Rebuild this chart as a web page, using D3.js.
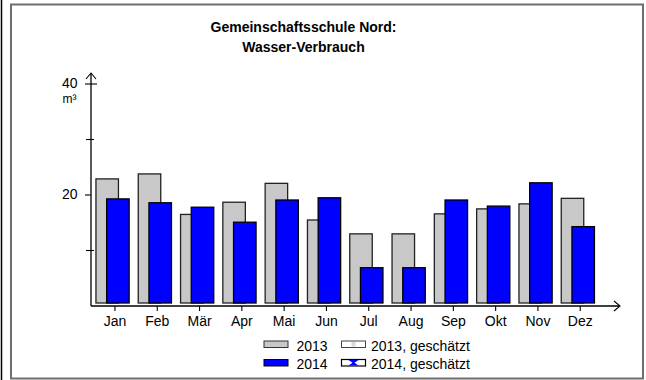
<!DOCTYPE html>
<html>
<head>
<meta charset="utf-8">
<script src="https://cdn.jsdelivr.net/npm/d3@7"></script>
<style>
  html, body { margin: 0; padding: 0; background: #fff; }
  svg { display: block; font-family: "Liberation Sans", Arial, sans-serif; }
</style>
</head>
<body>
<svg id="chart" width="646" height="380"></svg>
<script>
// Monthly water consumption (m³)
const months = ["Jan", "Feb", "Mär", "Apr", "Mai", "Jun", "Jul", "Aug", "Sep", "Okt", "Nov", "Dez"];
const values2013 = [22.9, 23.8, 16.5, 18.7, 22.1, 15.5, 13.0, 13.0, 16.6, 17.5, 18.4, 19.4];
const values2014 = [19.3, 18.6, 17.8, 15.1, 19.1, 19.5, 6.9, 6.9, 19.1, 18.0, 22.2, 14.3];
const yTicksMajor = [20, 40];
const yTicksMinor = [10, 30];
const titleLines = ["Gemeinschaftsschule Nord:", "Wasser-Verbrauch"];
const legendItems = [
  { label: "2013", kind: "2013" },
  { label: "2013, geschätzt", kind: "2013e" },
  { label: "2014", kind: "2014" },
  { label: "2014, geschätzt", kind: "2014e" }
];

const svg = d3.select("#chart");
const grey = "#c8c8c8";
const blue = "#0000ff";

// frame
svg.append("line").attr("x1", 1.5).attr("x2", 1.5).attr("y1", 0).attr("y2", 380)
  .attr("stroke", "#000").attr("stroke-width", 1.5);
svg.append("rect").attr("x", 11).attr("y", 4.5).attr("width", 632).attr("height", 374)
  .attr("fill", "none").attr("stroke", "#6e6e6e").attr("stroke-width", 2);

// title
svg.append("g").selectAll("text").data(titleLines).join("text")
  .attr("x", 303.5).attr("y", (d, i) => 31.7 + i * 20.6)
  .attr("text-anchor", "middle")
  .attr("font-size", 14).attr("font-weight", "bold")
  .text(d => d);

// scales
const x = d3.scaleBand().domain(months).range([93.8, 93.8 + 12 * 42.3]).padding(0);
const y = d3.scaleLinear().domain([0, 40]).range([306, 84]);
const barW = 22.5;
const base = y(0) - 3;

// bars
const groups = svg.append("g").selectAll("g").data(months).join("g")
  .attr("transform", d => `translate(${x(d) + x.bandwidth() / 2},0)`);

groups.append("rect")
  .attr("x", -19).attr("width", barW)
  .attr("y", (d, i) => y(values2013[i]))
  .attr("height", (d, i) => base - y(values2013[i]))
  .attr("fill", grey).attr("stroke", "#222").attr("stroke-width", 1.3);

groups.append("rect")
  .attr("x", -8.3).attr("width", barW)
  .attr("y", (d, i) => y(values2014[i]))
  .attr("height", (d, i) => base - y(values2014[i]))
  .attr("fill", blue).attr("stroke", "#000").attr("stroke-width", 1.3);

// y axis
const axX = 91;
svg.append("line").attr("x1", axX).attr("x2", axX).attr("y1", y(0)).attr("y2", 73)
  .attr("stroke", "#000").attr("stroke-width", 1.3);
svg.append("path").attr("d", `M${axX - 5},${79} L${axX},${73} L${axX + 5},${79}`)
  .attr("fill", "none").attr("stroke", "#000").attr("stroke-width", 1.1);
svg.append("g").selectAll("line").data(yTicksMajor).join("line")
  .attr("x1", 85).attr("x2", d => d === 40 ? 97 : axX)
  .attr("y1", d => y(d)).attr("y2", d => y(d))
  .attr("stroke", "#000").attr("stroke-width", 1.1);
svg.append("g").selectAll("line").data(yTicksMinor).join("line")
  .attr("x1", 86).attr("x2", 94)
  .attr("y1", d => y(d)).attr("y2", d => y(d))
  .attr("stroke", "#000").attr("stroke-width", 1.1);
svg.append("g").selectAll("text").data(yTicksMajor).join("text")
  .attr("x", 77.5).attr("y", d => y(d) + 4)
  .attr("text-anchor", "end").attr("font-size", 14)
  .text(d => d);
svg.append("text").attr("x", 62.5).attr("y", 102.5)
  .attr("font-size", 12).text("m³");

// x axis
svg.append("line").attr("x1", axX).attr("x2", 620).attr("y1", y(0)).attr("y2", y(0))
  .attr("stroke", "#000").attr("stroke-width", 1.3);
svg.append("path").attr("d", `M${614},${y(0) - 5} L${620},${y(0)} L${614},${y(0) + 5}`)
  .attr("fill", "none").attr("stroke", "#000").attr("stroke-width", 1.1);
const xAxis = svg.append("g");
xAxis.selectAll("line").data(months).join("line")
  .attr("x1", d => x(d) + x.bandwidth() / 2).attr("x2", d => x(d) + x.bandwidth() / 2)
  .attr("y1", y(0)).attr("y2", y(0) + 5)
  .attr("stroke", "#000").attr("stroke-width", 1.1);
xAxis.selectAll("text").data(months).join("text")
  .attr("x", d => x(d) + x.bandwidth() / 2).attr("y", 325.5)
  .attr("text-anchor", "middle").attr("font-size", 14)
  .text(d => d);

// legend
const legend = svg.append("g");
const lg = legend.selectAll("g").data(legendItems).join("g")
  .attr("transform", (d, i) => `translate(${i % 2 === 0 ? 264 : 341.5},${i < 2 ? 341 : 359.5})`);
lg.each(function (d) {
  const g = d3.select(this);
  if (d.kind === "2013") {
    g.append("rect").attr("width", 24).attr("height", 6.5).attr("fill", grey)
      .attr("stroke", "#333").attr("stroke-width", 1);
  } else if (d.kind === "2014") {
    g.append("rect").attr("width", 24).attr("height", 6.5).attr("fill", blue)
      .attr("stroke", "#000").attr("stroke-width", 1);
  } else if (d.kind === "2013e") {
    g.append("rect").attr("width", 24).attr("height", 6.5).attr("fill", "#fff")
      .attr("stroke", "#444").attr("stroke-width", 1);
    g.append("rect").attr("x", 10).attr("y", 1).attr("width", 4).attr("height", 4.5)
      .attr("fill", "#d8d8d8");
  } else {
    g.append("rect").attr("width", 24).attr("height", 6.5).attr("fill", "#fff")
      .attr("stroke", "#000").attr("stroke-width", 1.2);
    g.append("path").attr("d", "M7,0.5 L17,0.5 L13,3.25 L17,6 L7,6 L11,3.25 Z")
      .attr("fill", blue);
  }
  g.append("text").attr("x", d.kind.length > 4 ? 29.5 : 32.5).attr("y", 9.8)
    .attr("font-size", 14).text(d.label);
});
</script>
</body>
</html>
